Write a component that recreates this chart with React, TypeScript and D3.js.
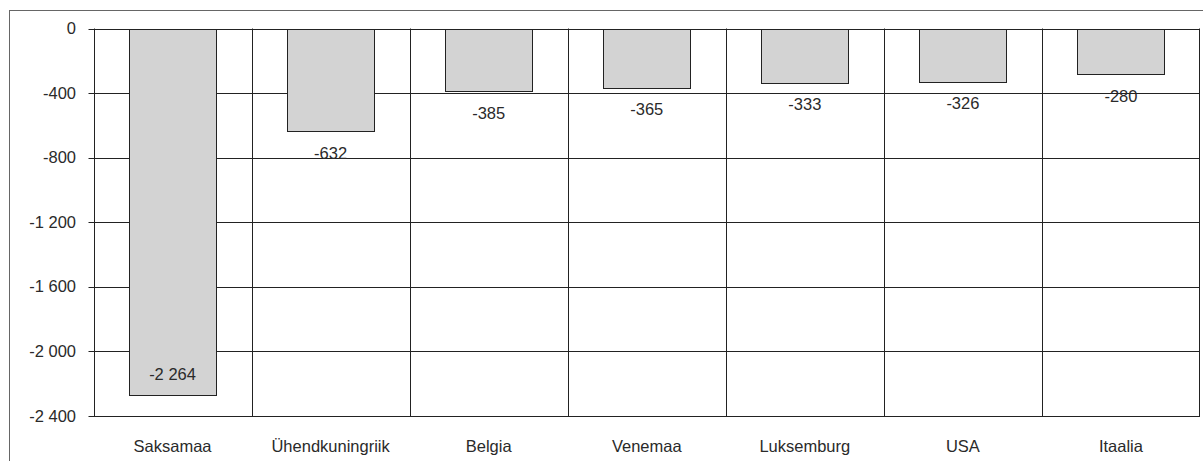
import React from "react";
import * as d3 from "d3";

const categories = ["Saksamaa", "Ühendkuningriik", "Belgia", "Venemaa", "Luksemburg", "USA", "Itaalia"];
const values = [-2264, -632, -385, -365, -333, -326, -280];
const yTicks = [0, -400, -800, -1200, -1600, -2000, -2400];

const W = 1203;
const H = 461;
const plot = { left: 93.5, right: 1200, top: 28.5, bottom: 416 };

function fmt(v: number): string {
  const s = Math.abs(v).toString().replace(/\B(?=(\d{3})+(?!\d))/g, " ");
  return (v < 0 ? "-" : "") + s;
}

export default function App() {
  const x = d3.scaleBand<string>().domain(categories).range([plot.left, plot.right]).paddingInner(0).paddingOuter(0);
  const y = d3.scaleLinear().domain([-2400, 0]).range([plot.bottom, plot.top]);
  const bw = x.bandwidth();
  const barW = bw * 0.552;
  const font = "'Liberation Sans', Arial, sans-serif";
  const fs = 16.5;
  const tc = "#2a2a2a";
  return (
    <svg width={W} height={H} style={{ position: "absolute", left: 0, top: 0 }} fontFamily={font}>
      <rect x={0} y={0} width={W} height={H} fill="#fff" />
      <rect x={9.5} y={10.5} width={1250} height={500} fill="none" stroke="#666" strokeWidth={1} />
      {/* grid lines */}
      {yTicks.map((t) => (
        <line key={"g" + t} x1={plot.left - 5} x2={plot.right} y1={Math.round(y(t)) + 0.5} y2={Math.round(y(t)) + 0.5} stroke="#222" strokeWidth={1} />
      ))}
      {/* category separators */}
      {categories.map((c, i) => (
        <line key={"s" + i} x1={Math.round(x(c)!) + 0.5} x2={Math.round(x(c)!) + 0.5} y1={plot.top} y2={plot.bottom} stroke="#222" strokeWidth={1} />
      ))}
      <line x1={plot.right - 0.5} x2={plot.right - 0.5} y1={plot.top} y2={plot.bottom} stroke="#222" strokeWidth={1} />
      {/* bars */}
      {categories.map((c, i) => {
        const cx = x(c)! + bw / 2;
        const y0 = y(0);
        const y1 = y(values[i]);
        return (
          <rect key={"b" + i} x={Math.round(cx - barW / 2) + 0.5} y={Math.round(y0) + 0.5} width={Math.round(barW)} height={Math.round(y1 - y0)} fill="#d3d3d3" stroke="#222" strokeWidth={1} />
        );
      })}
      {/* value labels */}
      {categories.map((c, i) => {
        const cx = x(c)! + bw / 2;
        const y1 = y(values[i]);
        const inside = y1 + 30 > plot.bottom - 10;
        const ty = inside ? y1 - 14 : y1 + 28;
        return (
          <text key={"l" + i} x={cx} y={ty} textAnchor="middle" fontSize={fs} fill={tc}>
            {fmt(values[i])}
          </text>
        );
      })}
      {/* y tick labels */}
      {yTicks.map((t) => (
        <text key={"t" + t} x={76} y={y(t) + 5.5} textAnchor="end" fontSize={fs} fill={tc}>
          {fmt(t)}
        </text>
      ))}
      {/* category labels */}
      {categories.map((c) => (
        <text key={"c" + c} x={x(c)! + bw / 2} y={452} textAnchor="middle" fontSize={fs} fill={tc}>
          {c}
        </text>
      ))}
    </svg>
  );
}
